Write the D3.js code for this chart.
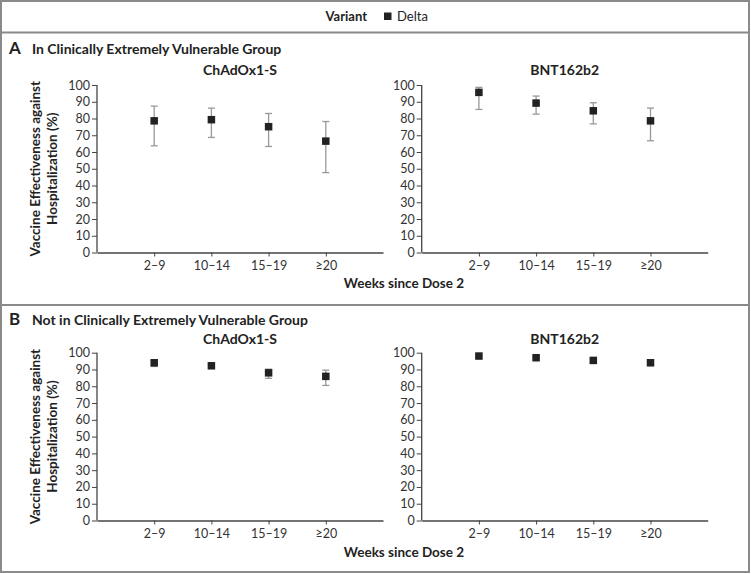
<!DOCTYPE html>
<html><head><meta charset="utf-8">
<script src="https://cdn.jsdelivr.net/npm/d3@7"></script>
<style>body{margin:0;background:#fff}svg{display:block}text{font-family:Lato,"Open Sans",sans-serif}</style>
</head><body><svg id="c" width="751" height="574"></svg>
<script>
const categories = ["2\u20139", "10\u201314", "15\u201319", "\u226520"];
const yTicks = [0,10,20,30,40,50,60,70,80,90,100];
const vaccines = ["ChAdOx1-S", "BNT162b2"];
const panelTitles = ["In Clinically Extremely Vulnerable Group", "Not in Clinically Extremely Vulnerable Group"];
const panelLetters = ["A", "B"];
// Panel A (CEV)
const cevChAd = [78.6, 79.3, 75.1, 66.5];
const cevChAdLo = [63.7, 68.7, 63.3, 47.7];
const cevChAdHi = [87.4, 86.2, 83.0, 78.2];
const cevBNT = [95.6, 89.2, 84.6, 78.6];
const cevBNTLo = [85.4, 82.6, 76.8, 66.7];
const cevBNTHi = [98.6, 93.4, 89.4, 86.2];
// Panel B (not CEV)
const nonChAd = [94.0, 92.2, 88.0, 85.9];
const nonChAdLo = [91.8, 91.0, 84.7, 80.5];
const nonChAdHi = [95.4, 93.4, 90.2, 89.6];
const nonBNT = [98.0, 97.0, 95.4, 94.0];
const nonBNTLo = [97.3, 96.4, 94.6, 92.4];
const nonBNTHi = [98.5, 97.5, 96.1, 95.2];

const svg = d3.select("#c");
const border = "#8a8a8a";
// outer boxes
svg.append("rect").attr("x",1).attr("y",1).attr("width",748).attr("height",571)
  .attr("fill","none").attr("stroke",border).attr("stroke-width",2);
[32.5, 305].forEach(y=>svg.append("line").attr("x1",1).attr("x2",749).attr("y1",y).attr("y2",y)
  .attr("stroke",border).attr("stroke-width",2));

// legend
svg.append("text").attr("x",367).attr("y",21).attr("text-anchor","end")
  .attr("font-size",13).attr("font-weight",700).attr("fill","#222").text("Variant");
svg.append("rect").attr("x",384).attr("y",12.5).attr("width",7.5).attr("height",7.5).attr("fill","#222");
svg.append("text").attr("x",397).attr("y",21).attr("font-size",13).attr("fill","#222").text("Delta");

const panels = [
  {top:0, data:[[cevChAd,cevChAdLo,cevChAdHi],[cevBNT,cevBNTLo,cevBNTHi]]},
  {top:1, data:[[nonChAd,nonChAdLo,nonChAdHi],[nonBNT,nonBNTLo,nonBNTHi]]}
];
const layout = [
  {letterY:54, y0:252.5, y1:85, titleY:75, xLabY:288},
  {letterY:325, y0:520.5, y1:352.7, titleY:344, xLabY:557}
];
const plotX = [[97, 383], [421.7, 707.7]];

panels.forEach((p, pi) => {
  const L = layout[pi];
  svg.append("text").attr("x",9).attr("y",L.letterY).attr("font-size",17).attr("font-weight",700)
    .attr("fill","#222").text(panelLetters[pi]);
  svg.append("text").attr("x",32).attr("y",L.letterY).attr("font-size",14).attr("font-weight",700)
    .attr("fill","#222").text(panelTitles[pi]);
  const y = d3.scaleLinear().domain([0,100]).range([L.y0, L.y1]);
  // y label
  const cy = (L.y0+L.y1)/2;
  const yl = svg.append("text").attr("transform",`translate(40,${cy}) rotate(-90)`)
    .attr("text-anchor","middle").attr("font-size",13.5).attr("font-weight",700).attr("fill","#222");
  yl.append("tspan").attr("x",0).attr("dy",0).text("Vaccine Effectiveness against");
  yl.append("tspan").attr("x",0).attr("dy",17).text("Hospitalization (%)");
  svg.append("text").attr("x",404).attr("y",L.xLabY).attr("text-anchor","middle")
    .attr("font-size",13.5).attr("font-weight",700).attr("fill","#222").text("Weeks since Dose 2");

  p.data.forEach((d, vi) => {
    const [xa, xb] = plotX[vi];
    const x = d3.scaleLinear().domain([0, categories.length+1]).range([xa, xb]);
    const g = svg.append("g");
    const yAxis = d3.axisLeft(y).tickValues(yTicks).tickSize(5).tickPadding(2);
    const ga = g.append("g").attr("transform",`translate(${xa},0)`).call(yAxis);
    const xAxis = d3.axisBottom(x).tickValues(categories.map((c,i)=>i+1))
      .tickFormat((v)=>categories[v-1]).tickSize(4).tickPadding(5).tickSizeOuter(0);
    const gx = g.append("g").attr("transform",`translate(0,${L.y0})`).call(xAxis);
    [ga, gx].forEach(a=>{
      a.select(".domain").attr("stroke","#444").attr("stroke-width",1.3);
      a.selectAll(".tick line").attr("stroke","#444");
      a.selectAll(".tick text").attr("font-size",12.5).attr("fill","#333").attr("font-family","Lato, sans-serif");
    });
    ga.select(".domain").attr("d",`M-0,${L.y1}V${L.y0}`);
    svg.append("text").attr("x",(xa+xb)/2).attr("y",L.titleY).attr("text-anchor","middle")
      .attr("font-size",14).attr("font-weight",700).attr("fill","#222").text(vaccines[vi]);
    const [val, lo, hi] = d;
    categories.forEach((c, i) => {
      const cx = x(i+1);
      g.append("line").attr("x1",cx).attr("x2",cx).attr("y1",y(lo[i])).attr("y2",y(hi[i]))
        .attr("stroke","#999").attr("stroke-width",1.3);
      [lo[i], hi[i]].forEach(v=>g.append("line").attr("x1",cx-3.5).attr("x2",cx+3.5)
        .attr("y1",y(v)).attr("y2",y(v)).attr("stroke","#999").attr("stroke-width",1.3));
      g.append("rect").attr("x",cx-3.75).attr("y",y(val[i])-3.75).attr("width",7.5).attr("height",7.5)
        .attr("fill","#222");
    });
  });
});
</script></body></html>
